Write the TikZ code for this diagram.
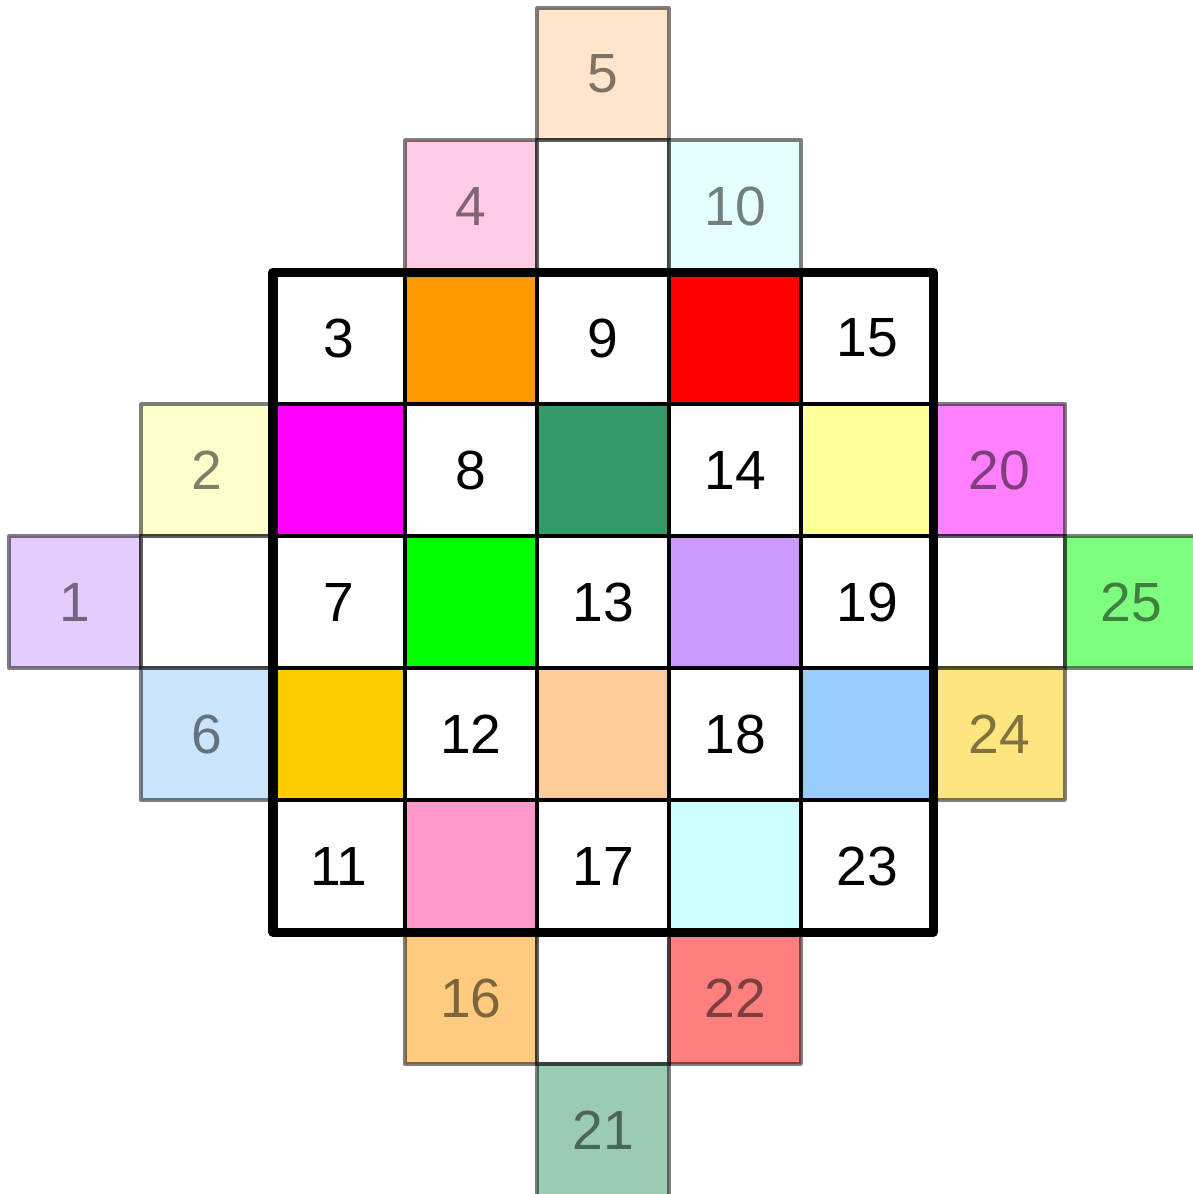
\documentclass[tikz,border=0pt]{standalone}
\usepackage{fontspec}
\setmainfont{Liberation Sans}
\usepackage{xcolor}
\definecolor{sqorange}{HTML}{FF9900}
\definecolor{sqred}{HTML}{FF0000}
\definecolor{sqmagenta}{HTML}{FF00FF}
\definecolor{sqdkgreen}{HTML}{339966}
\definecolor{sqyellow}{HTML}{FFFF99}
\definecolor{sqgreen}{HTML}{00FF00}
\definecolor{sqpurple}{HTML}{CC99FF}
\definecolor{sqgold}{HTML}{FFCC00}
\definecolor{sqpeach}{HTML}{FFCC99}
\definecolor{sqblue}{HTML}{99CCFF}
\definecolor{sqpink}{HTML}{FF99CC}
\definecolor{sqcyan}{HTML}{CCFFFF}

\begin{document}
\begin{tikzpicture}[
				cell/.style={draw=black, line width=0.86pt, minimum size=1cm, inner sep=0pt,
					outer sep=0pt, font=\fontsize{11.9pt}{14pt}\selectfont},
				ghost/.style={cell, opacity=0.5, line width=0.7pt, line join=round}]
				\useasboundingbox (-0.068,0.016) rectangle (8.962,9.061);
				
				%--- outer cells (shifted copies, half transparent) ---
				\foreach \c/\r/\col/\txt in {4/0/sqpeach/5, 3/1/sqpink/4, 4/1/white/, 5/1/sqcyan/10,
					1/3/sqyellow/2, 7/3/sqmagenta/20, 0/4/sqpurple/1, 1/4/white/, 7/4/white/,
					8/4/sqgreen/25, 1/5/sqblue/6, 7/5/sqgold/24, 3/7/sqorange/16, 4/7/white/,
					5/7/sqred/22, 4/8/sqdkgreen/21}
				\node[ghost, fill=\col] (o-\c-\r) at (\c+0.5,8.5-\r) {\txt};
				
				%--- the 5x5 square ---
				\foreach \c/\r/\col/\txt in {2/2/white/3, 3/2/sqorange/, 4/2/white/9, 5/2/sqred/, 6/2/white/15,
					2/3/sqmagenta/, 3/3/white/8, 4/3/sqdkgreen/, 5/3/white/14, 6/3/sqyellow/,
					2/4/white/7, 3/4/sqgreen/, 4/4/white/13, 5/4/sqpurple/, 6/4/white/19,
					2/5/sqgold/, 3/5/white/12, 4/5/sqpeach/, 5/5/white/18, 6/5/sqblue/,
					2/6/white/11, 3/6/sqpink/, 4/6/white/17, 5/6/sqcyan/, 6/6/white/23}
				\node[cell, fill=\col] (s-\c-\r) at (\c+0.5,8.5-\r) {\txt};
				
				%--- thick frame ---
				\draw[line width=1.95pt, line join=round] (s-2-2.north west) rectangle (s-6-6.south east);
			\end{tikzpicture}
\end{document}
